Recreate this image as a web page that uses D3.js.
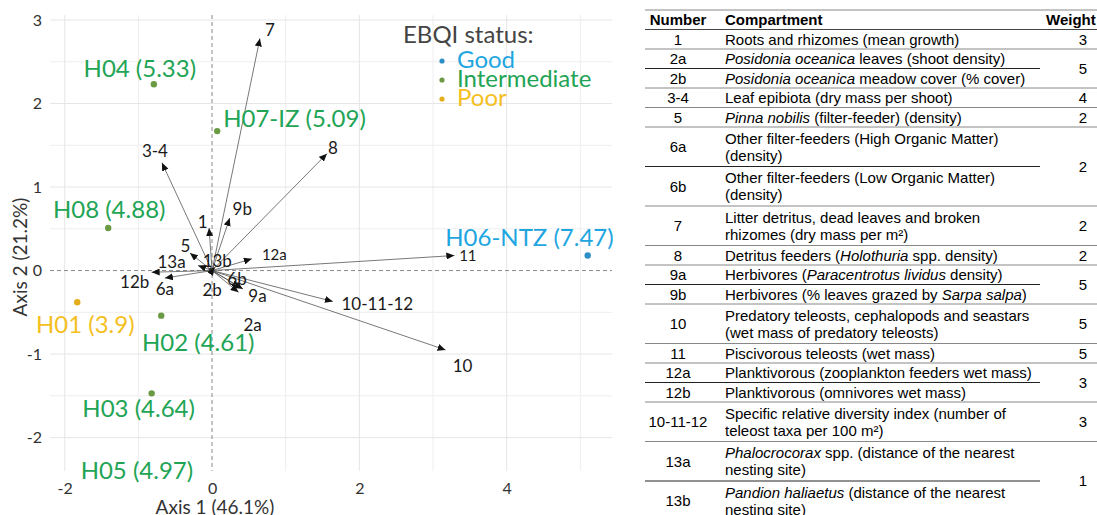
<!DOCTYPE html>
<html>
<head>
<meta charset="utf-8">
<script src="https://cdn.jsdelivr.net/npm/d3@7"></script>
<style>
  body { margin: 0; background: #fff; }
  svg { display: block; }
  .tick text { font-family: Lato, sans-serif; }
</style>
</head>
<body>
<svg id="chart" width="1097" height="515"></svg>
<script>
// ---- biplot data ----
var siteNames = ["H01 (3.9)", "H02 (4.61)", "H03 (4.64)", "H04 (5.33)", "H05 (4.97)", "H06-NTZ (7.47)", "H07-IZ (5.09)", "H08 (4.88)"];
var siteStatus = ["Poor", "Intermediate", "Intermediate", "Intermediate", "Intermediate", "Good", "Intermediate", "Intermediate"];
var siteAxis1 = [-1.83, -0.69, -0.82, -0.79, -0.83, 5.10, 0.07, -1.41];
var siteAxis2 = [-0.38, -0.54, -1.47, 2.23, -2.57, 0.18, 1.67, 0.51];

var varNames = ["1", "2a", "2b", "3-4", "5", "6a", "6b", "7", "8", "9a", "9b", "10", "11", "12a", "12b", "10-11-12", "13a", "13b"];
var varAxis1 = [-0.04, 0.36, 0.01, -0.68, -0.30, -0.64, 0.38, 0.65, 1.56, 0.42, 0.24, 3.17, 3.29, 0.54, -0.82, 1.64, -0.19, 0.03];
var varAxis2 = [0.51, -0.26, -0.06, 1.29, 0.21, -0.09, -0.20, 2.78, 1.40, -0.22, 0.63, -0.95, 0.18, 0.14, -0.02, -0.37, 0.06, 0.04];

var statusNames = ["Good", "Intermediate", "Poor"];
var xTicks = [-2, 0, 2, 4];
var xMinor = [-1, 1, 3, 5];
var yTicks = [-2, -1, 0, 1, 2, 3];
var yMinor = [-1.5, -0.5, 0.5, 1.5, 2.5];

// ---- table data ----
var tableHeader = ["Number", "Compartment", "Weight"];
var tableNumbers = ["1", "2a", "2b", "3-4", "5", "6a", "6b", "7", "8", "9a", "9b", "10", "11", "12a", "12b", "10-11-12", "13a", "13b"];
var tableCompartments = [
  "Roots and rhizomes (mean growth)",
  "*Posidonia oceanica* leaves (shoot density)",
  "*Posidonia oceanica* meadow cover (% cover)",
  "Leaf epibiota (dry mass per shoot)",
  "*Pinna nobilis* (filter-feeder) (density)",
  "Other filter-feeders (High Organic Matter)\n(density)",
  "Other filter-feeders (Low Organic Matter)\n(density)",
  "Litter detritus, dead leaves and broken\nrhizomes (dry mass per m²)",
  "Detritus feeders (*Holothuria* spp. density)",
  "Herbivores (*Paracentrotus lividus* density)",
  "Herbivores (% leaves grazed by *Sarpa salpa*)",
  "Predatory teleosts, cephalopods and seastars\n(wet mass of predatory teleosts)",
  "Piscivorous teleosts (wet mass)",
  "Planktivorous (zooplankton feeders wet mass)",
  "Planktivorous (omnivores wet mass)",
  "Specific relative diversity index (number of\nteleost taxa per 100 m²)",
  "*Phalocrocorax* spp. (distance of the nearest\nnesting site)",
  "*Pandion haliaetus* (distance of the nearest\nnesting site)"
];
// [weight, number of rows sharing it]
var weightGroups = [[3, 1], [5, 2], [4, 1], [2, 1], [2, 2], [2, 1], [2, 1], [5, 2], [5, 1], [5, 1], [3, 2], [3, 1], [1, 2]];

// ---- layout (label nudges in px) ----
var siteLabelNudge = {
  "H01 (3.9)": [8, 31, "middle"],
  "H02 (4.61)": [37, 35, "middle"],
  "H03 (4.64)": [-13, 24, "middle"],
  "H04 (5.33)": [-14, -7, "middle"],
  "H05 (4.97)": [-14, -6, "middle"],
  "H06-NTZ (7.47)": [26, -10, "end"],
  "H07-IZ (5.09)": [6, -4, "start"],
  "H08 (4.88)": [1, -10, "middle"]
};
var varLabelNudge = {
  "1": [-6.5, 0], "2a": [14, 39], "2b": [-0.7, 20], "3-4": [-7, -6], "5": [-4.5, -1],
  "6a": [0, 17], "6b": [-3, -2], "7": [10, -2], "8": [6, 0], "9a": [14.5, 13],
  "9b": [12.5, -3], "10": [17, 22], "11": [13.5, 5], "12a": [22.5, 1], "12b": [-17, 16],
  "10-11-12": [44.5, 9], "13a": [-26.5, 2], "13b": [3, 0]
};
var smallVarLabels = ["11", "12a"];

var statusDot = {Good: "#2e8fc6", Intermediate: "#6b9a45", Poor: "#e3ad1c"};
var statusText = {Good: "#1fa6e0", Intermediate: "#22a455", Poor: "#f5bf22"};

var svg = d3.select("#chart");

var panel = {left: 50, right: 612, top: 15, bottom: 471};
var x = d3.scaleLinear().domain([-2.2, 5.43]).range([panel.left, panel.right]);
var y = d3.scaleLinear().domain([3.06, -2.40]).range([panel.top, panel.bottom]);

svg.append("defs").append("clipPath").attr("id", "panelClip")
  .append("rect")
  .attr("x", panel.left).attr("y", panel.top)
  .attr("width", panel.right - panel.left).attr("height", panel.bottom - panel.top);

var marker = svg.select("defs").append("marker")
  .attr("id", "arrowHead")
  .attr("markerUnits", "userSpaceOnUse")
  .attr("markerWidth", 9).attr("markerHeight", 7)
  .attr("refX", 8).attr("refY", 3.5)
  .attr("orient", "auto");
marker.append("path").attr("d", "M0,0 L8,3.5 L0,7 Z").attr("fill", "#111");

// grid
var grid = svg.append("g");
grid.selectAll(".ymin").data(yMinor).enter().append("line")
  .attr("x1", panel.left).attr("x2", panel.right)
  .attr("y1", function (d) { return y(d); }).attr("y2", function (d) { return y(d); })
  .attr("stroke", "#eeeeee").attr("stroke-width", 1);
grid.selectAll(".xmin").data(xMinor).enter().append("line")
  .attr("y1", panel.top).attr("y2", panel.bottom)
  .attr("x1", function (d) { return x(d); }).attr("x2", function (d) { return x(d); })
  .attr("stroke", "#eeeeee").attr("stroke-width", 1);
grid.selectAll(".ymaj").data(yTicks.filter(function (d) { return d !== 0; })).enter().append("line")
  .attr("x1", panel.left).attr("x2", panel.right)
  .attr("y1", function (d) { return y(d); }).attr("y2", function (d) { return y(d); })
  .attr("stroke", "#e6e6e6").attr("stroke-width", 1);
grid.selectAll(".xmaj").data(xTicks.filter(function (d) { return d !== 0; })).enter().append("line")
  .attr("y1", panel.top).attr("y2", panel.bottom)
  .attr("x1", function (d) { return x(d); }).attr("x2", function (d) { return x(d); })
  .attr("stroke", "#e6e6e6").attr("stroke-width", 1);

// dashed zero lines
grid.append("line")
  .attr("x1", panel.left).attr("x2", panel.right)
  .attr("y1", y(0)).attr("y2", y(0))
  .attr("stroke", "#8a8a8a").attr("stroke-width", 1).attr("stroke-dasharray", "4,3");
grid.append("line")
  .attr("y1", panel.top).attr("y2", panel.bottom)
  .attr("x1", x(0)).attr("x2", x(0))
  .attr("stroke", "#8a8a8a").attr("stroke-width", 1).attr("stroke-dasharray", "4,3");

// axes
var yAxis = svg.append("g")
  .attr("transform", "translate(" + panel.left + ",0)")
  .call(d3.axisLeft(y).tickValues(yTicks).tickSize(0).tickPadding(8).tickFormat(d3.format("d")));
var xAxis = svg.append("g")
  .attr("transform", "translate(0," + panel.bottom + ")")
  .call(d3.axisBottom(x).tickValues(xTicks).tickSize(0).tickPadding(12).tickFormat(d3.format("d")));
[xAxis, yAxis].forEach(function (a) {
  a.select(".domain").remove();
  a.selectAll("text").attr("font-size", 16).attr("fill", "#333")
    .text(function (d) { return String(d).replace("−", "-"); });
});

svg.append("text")
  .attr("x", 215).attr("y", 514)
  .attr("text-anchor", "middle")
  .attr("font-family", "Lato, sans-serif").attr("font-size", 19).attr("fill", "#333")
  .text("Axis 1 (46.1%)");
svg.append("text")
  .attr("transform", "translate(27,257) rotate(-90)")
  .attr("text-anchor", "middle")
  .attr("font-family", "Lato, sans-serif").attr("font-size", 19).attr("fill", "#333")
  .text("Axis 2 (21.2%)");

// arrows
var arrows = svg.append("g");
arrows.selectAll("line").data(varNames).enter().append("line")
  .attr("x1", x(0)).attr("y1", y(0))
  .attr("x2", function (d, i) { return x(varAxis1[i]); })
  .attr("y2", function (d, i) { return y(varAxis2[i]); })
  .attr("stroke", "#555").attr("stroke-width", 0.8)
  .attr("marker-end", "url(#arrowHead)");
arrows.selectAll("text").data(varNames).enter().append("text")
  .attr("x", function (d, i) { return x(varAxis1[i]) + varLabelNudge[d][0]; })
  .attr("y", function (d, i) { return y(varAxis2[i]) + varLabelNudge[d][1]; })
  .attr("text-anchor", "middle")
  .attr("font-family", "Lato, sans-serif")
  .attr("font-size", function (d) { return smallVarLabels.indexOf(d) >= 0 ? 15 : 17; })
  .attr("fill", "#1a1a1a")
  .text(function (d) { return d; });

// site points
svg.append("g").attr("clip-path", "url(#panelClip)")
  .selectAll("circle").data(siteNames).enter().append("circle")
  .attr("cx", function (d, i) { return x(siteAxis1[i]); })
  .attr("cy", function (d, i) { return y(siteAxis2[i]); })
  .attr("r", 3.2)
  .attr("fill", function (d, i) { return statusDot[siteStatus[i]]; });
svg.append("g").selectAll("text").data(siteNames).enter().append("text")
  .attr("x", function (d, i) { return x(siteAxis1[i]) + siteLabelNudge[d][0]; })
  .attr("y", function (d, i) { return y(siteAxis2[i]) + siteLabelNudge[d][1]; })
  .attr("text-anchor", function (d) { return siteLabelNudge[d][2]; })
  .attr("font-family", "Lato, sans-serif").attr("font-size", 24)
  .attr("fill", function (d, i) { return statusText[siteStatus[i]]; })
  .text(function (d) { return d; });

// legend
var legend = svg.append("g");
legend.append("text")
  .attr("x", 403).attr("y", 43)
  .attr("font-family", "Lato, sans-serif").attr("font-size", 24).attr("fill", "#444")
  .text("EBQI status:");
var items = legend.selectAll(".item").data(statusNames).enter().append("g")
  .attr("transform", function (d, i) { return "translate(0," + (68 + i * 19) + ")"; });
items.append("circle").attr("cx", 442).attr("cy", -7).attr("r", 2.6)
  .attr("fill", function (d) { return statusDot[d]; });
items.append("text").attr("x", 457).attr("y", 0)
  .attr("font-family", "Lato, sans-serif").attr("font-size", 24)
  .attr("fill", function (d) { return statusText[d]; })
  .text(function (d) { return d; });

// ---- table ----
var tbl = svg.append("g").attr("font-family", "'Liberation Sans', Arial, sans-serif").attr("font-size", 15).attr("fill", "#000");
var colNum = 678, colComp = 725, colWeight = 1083, tLeft = 645, tRight = 1097, tSplit = 1040;
var singleH = 19.5, doubleH = 39.5, lineGap = 17;

function addRich(sel, str) {
  str.split("*").forEach(function (part, k) {
    if (!part) return;
    sel.append("tspan").attr("font-style", k % 2 ? "italic" : "normal").text(part);
  });
}

var top0 = 10;
tbl.append("line").attr("x1", tLeft).attr("x2", tRight).attr("y1", top0).attr("y2", top0)
  .attr("stroke", "#888").attr("stroke-width", 1);
var headY = top0 + singleH / 2;
[[colNum, "middle"], [colComp, "start"], [1046, "start"]].forEach(function (c, k) {
  tbl.append("text").attr("x", c[0]).attr("y", headY).attr("dy", "0.35em")
    .attr("text-anchor", c[1]).attr("font-weight", "bold").text(tableHeader[k]);
});
var cursor = top0 + singleH;
tbl.append("line").attr("x1", tLeft).attr("x2", tRight).attr("y1", cursor).attr("y2", cursor)
  .attr("stroke", "#444").attr("stroke-width", 1);

var rowTop = [], rowBottom = [];
tableNumbers.forEach(function (num, i) {
  var lines = tableCompartments[i].split("\n");
  var h = lines.length > 1 ? doubleH : singleH;
  var mid = cursor + h / 2;
  rowTop.push(cursor);
  tbl.append("text").attr("x", colNum).attr("y", mid).attr("dy", "0.35em")
    .attr("text-anchor", "middle").text(num);
  lines.forEach(function (ln, j) {
    var t = tbl.append("text").attr("x", colComp)
      .attr("y", mid + (j - (lines.length - 1) / 2) * lineGap).attr("dy", "0.35em");
    addRich(t, ln);
  });
  cursor += h;
  rowBottom.push(cursor);
});

var r = 0;
weightGroups.forEach(function (g) {
  var first = r, last = r + g[1] - 1;
  var mid = (rowTop[first] + rowBottom[last]) / 2;
  tbl.append("text").attr("x", colWeight).attr("y", mid).attr("dy", "0.35em")
    .attr("text-anchor", "middle").text(g[0]);
  for (var k = first; k <= last; k++) {
    var inner = k < last;
    tbl.append("line")
      .attr("x1", tLeft).attr("x2", inner ? tSplit : tRight)
      .attr("y1", rowBottom[k]).attr("y2", rowBottom[k])
      .attr("stroke", inner ? "#222" : "#888").attr("stroke-width", 1);
  }
  r += g[1];
});
</script>
</body>
</html>
